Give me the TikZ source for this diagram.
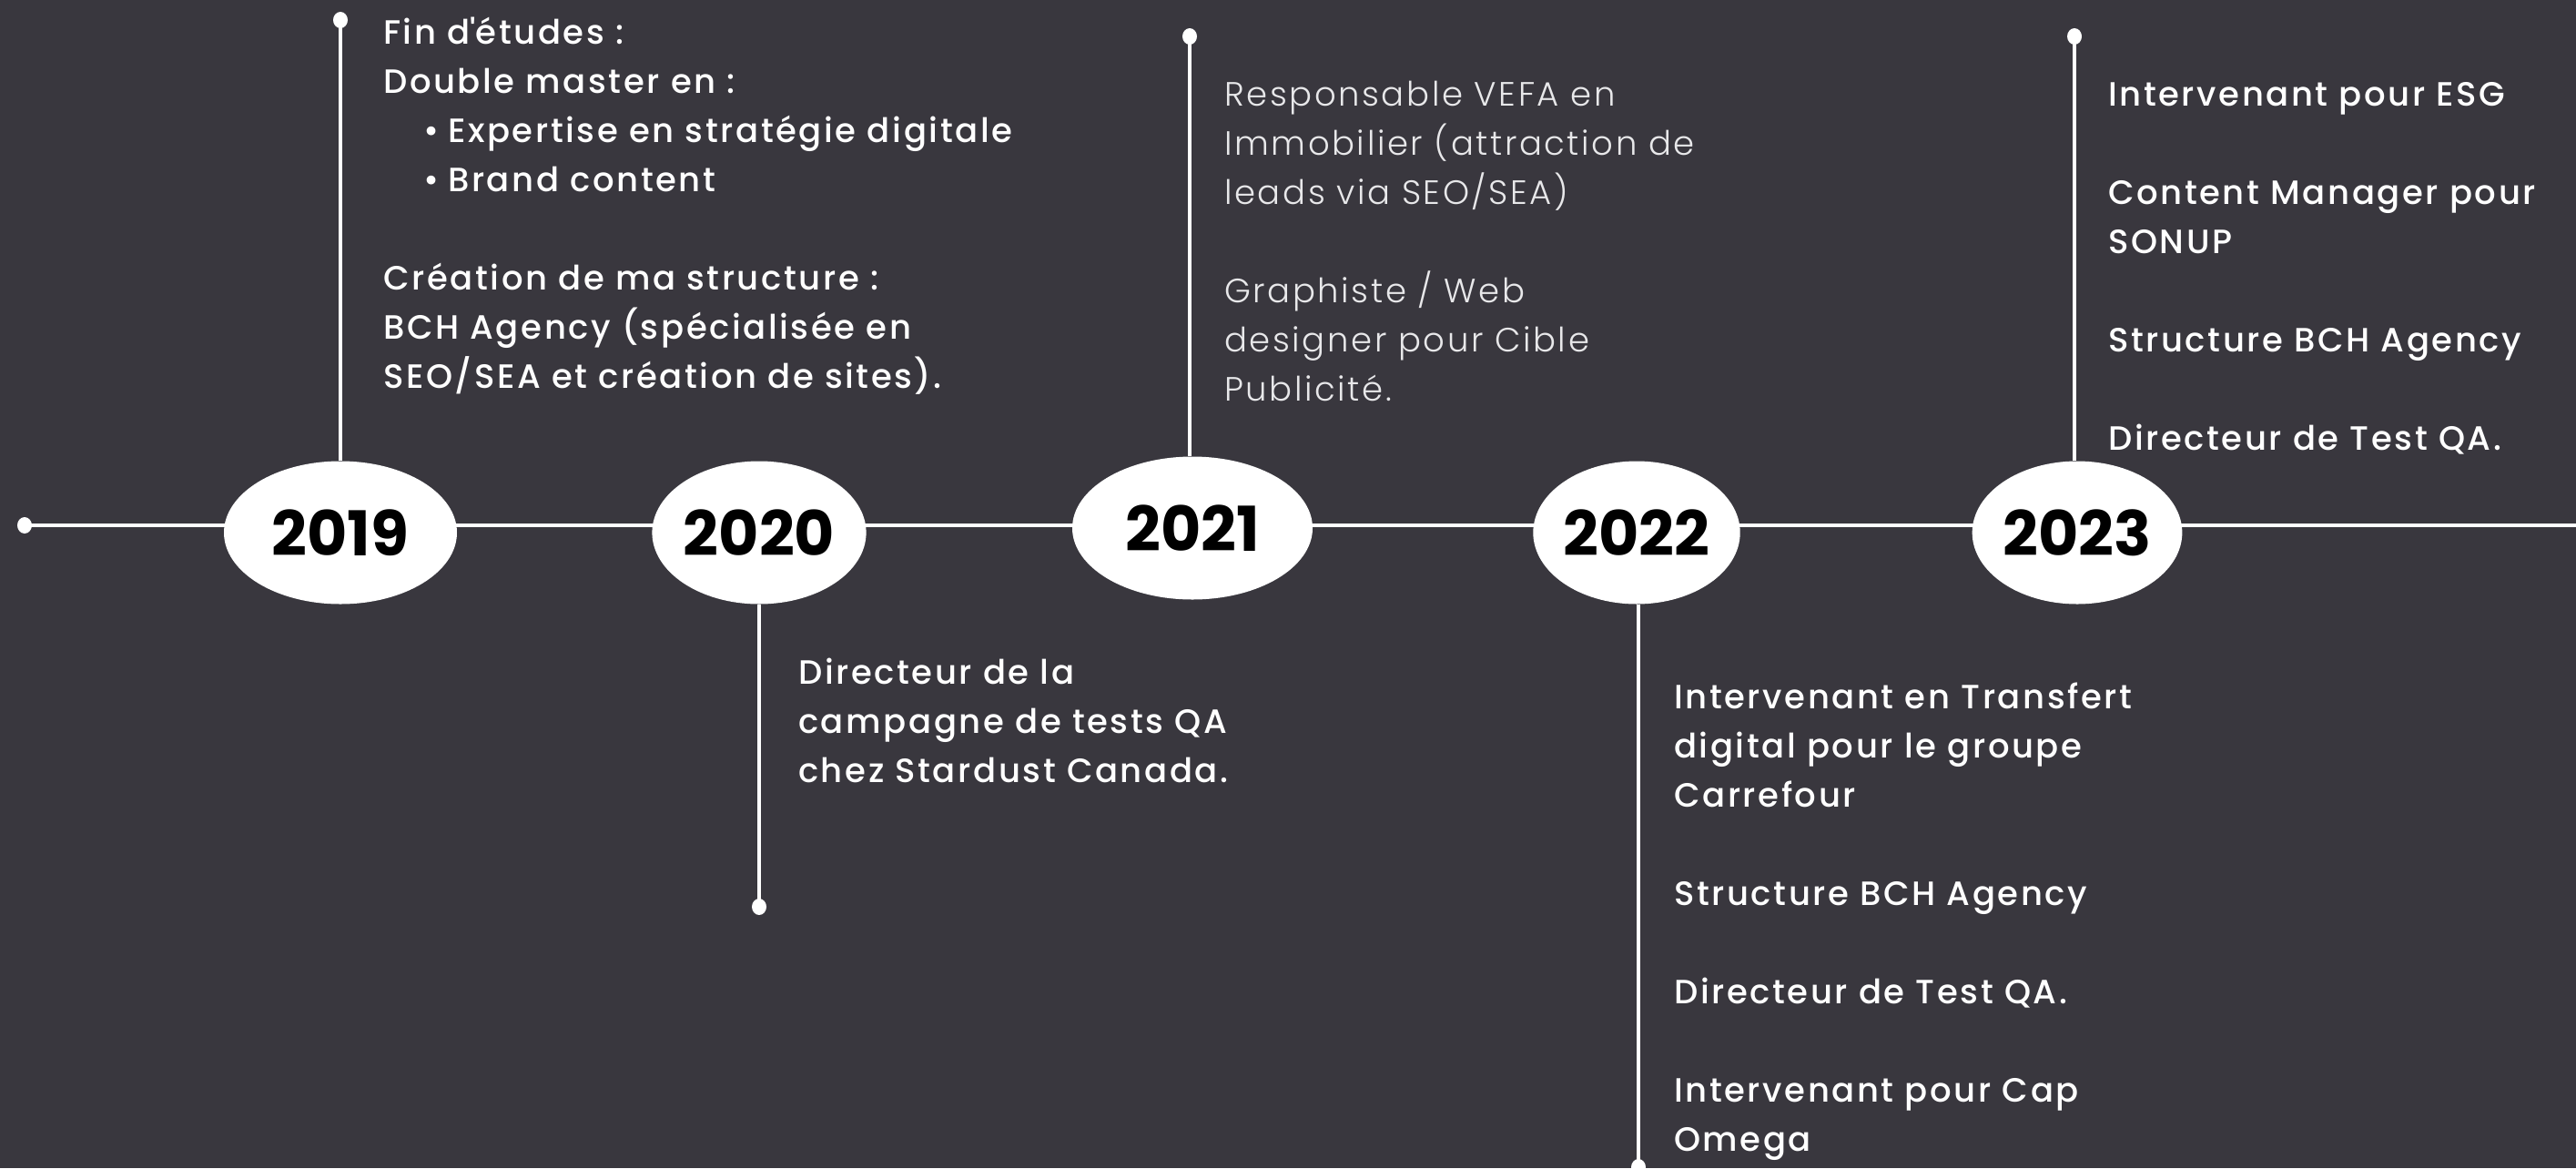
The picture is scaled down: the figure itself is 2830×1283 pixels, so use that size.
\documentclass[tikz,border=0pt]{standalone}
\usepackage{fontspec}
\setmainfont{Poppins Medium}[LetterSpace=7]
\newfontfamily\yearfont{Poppins}
\newfontfamily\lightfont{Poppins Light}[LetterSpace=7]
\usetikzlibrary{shapes.geometric,backgrounds}
\definecolor{board}{RGB}{57,55,62}
\definecolor{lighttxt}{RGB}{232,232,234}
\begin{document}
\begin{tikzpicture}[x=1pt,y=-1pt,
  yearnode/.style={ellipse,fill=white,inner sep=0pt,minimum height=157pt,
    font=\yearfont\bfseries\fontsize{68}{68}\selectfont,text=black},
  tline/.style={white,line width=4pt},
  dotmark/.style={fill=white},
  block/.style={anchor=base west,inner sep=0pt,align=left,text=white,
    font=\fontsize{37}{54}\selectfont},
  lightblock/.style={block,text=lighttxt,font=\lightfont\fontsize{37}{54}\selectfont}]
\useasboundingbox (0,0) rectangle (2830,1283);
% year nodes
\node[yearnode,minimum width=256pt] (y19) at (374,585) {2019};
\node[yearnode,minimum width=231pt] (y20) at (834,585) {2020};
\node[yearnode,minimum width=264pt] (y21) at (1310,580) {2021};
\node[yearnode,minimum width=220pt] (y22) at (1798,585) {2022};
\node[yearnode,minimum width=223pt] (y23) at (2282,585) {2023};
% end points
\coordinate (dL) at (27,577);
\coordinate (rE) at (2830,577);
\coordinate (d19) at (374,22);
\coordinate (d20) at (834,996);
\coordinate (d21) at (1307,40);
\coordinate (d22) at (1800,1282);
\coordinate (d23) at (2279,40);
\begin{pgfonlayer}{background}
  \fill[board] (0,0) rectangle (2830,1283);
  \draw[tline] (dL) -- (rE);
  \draw[tline] (d19) -- (y19.north);
  \draw[tline] (y20.south) -- (d20);
  \draw[tline] (d21) -- (d21 |- y21.north);
  \draw[tline] (y22.south -| d22) -- (d22);
  \draw[tline] (d23) -- (d23 |- y23.north);
\end{pgfonlayer}
\foreach \p in {dL,d19,d20,d21,d22,d23}
  \fill[dotmark] (\p) ellipse [x radius=8pt,y radius=9pt];
% texts (anchored at the baseline of their last line)
\node[block] (t19) at (421,426) {Fin d\textquotesingle études :\\
Double master en :\\
\hspace*{44pt}•\hspace{10pt}Expertise en stratégie digitale\\
\hspace*{44pt}•\hspace{10pt}Brand content\\[54pt]
Création de ma structure :\\
BCH Agency (spécialisée en\\
SEO/SEA et création de sites).};
\node[lightblock] (t21) at (1345,440) {Responsable VEFA en\\
Immobilier (attraction de\\
leads via SEO/SEA)\\[54pt]
Graphiste / Web\\
designer pour Cible\\
Publicité.};
\node[block] (t23) at (2316,494) {Intervenant pour ESG\\[54pt]
Content Manager pour\\
SONUP\\[54pt]
Structure BCH Agency\\[54pt]
Directeur de Test QA.};
\node[block] (t20) at (877,859) {Directeur de la\\
campagne de tests QA\\
chez Stardust Canada.};
\node[block] (t22) at (1839,1264) {Intervenant en Transfert\\
digital pour le groupe\\
Carrefour\\[54pt]
Structure BCH Agency\\[54pt]
Directeur de Test QA.\\[54pt]
Intervenant pour Cap\\
Omega};
\end{tikzpicture}
\end{document}
